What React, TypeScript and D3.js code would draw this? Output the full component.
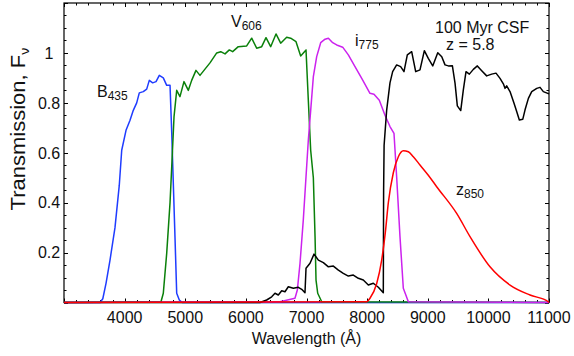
import React from "react";
import * as d3 from "d3";

// Filter transmission curves (wavelength in Å, throughput)
const bLambda = [3000, 3594, 3640, 3693, 3759, 3841, 3912, 3952, 4023, 4089, 4143, 4199, 4242, 4308, 4364, 4407, 4463, 4518, 4572, 4638, 4694, 4749, 4777, 4831, 4859, 4902, 4950, 11000];
const bTrans = [0, 0, 0.015, 0.077, 0.17, 0.3, 0.47, 0.61, 0.69, 0.73, 0.77, 0.8, 0.84, 0.845, 0.855, 0.89, 0.88, 0.885, 0.91, 0.9, 0.87, 0.87, 0.68, 0.26, 0.037, 0.01, 0, 0];

const vLambda = [3000, 4600, 4638, 4694, 4749, 4777, 4815, 4859, 4913, 4979, 5051, 5106, 5177, 5243, 5309, 5408, 5519, 5585, 5656, 5727, 5782, 5875, 6013, 6096, 6178, 6261, 6332, 6409, 6497, 6574, 6673, 6739, 6827, 6904, 6992, 7030, 7069, 7113, 7141, 7157, 7185, 7251, 11000];
const vTrans = [0, 0.003, 0.037, 0.197, 0.4, 0.544, 0.745, 0.85, 0.825, 0.885, 0.85, 0.89, 0.93, 0.91, 0.93, 0.96, 1.0, 1.005, 0.996, 1.012, 1.005, 1.025, 1.028, 1.059, 1.019, 1.025, 1.061, 1.025, 1.076, 1.039, 1.063, 1.059, 1.045, 0.988, 1.012, 0.81, 0.61, 0.5, 0.264, 0.09, 0.037, 0.003, 0];

const iLambda = [3000, 6563, 6810, 6849, 6893, 6947, 6992, 7030, 7069, 7113, 7168, 7234, 7306, 7361, 7432, 7498, 7597, 7690, 7800, 7911, 8047, 8113, 8201, 8295, 8377, 8443, 8460, 8487, 8542, 8597, 8680, 11000];
const iTrans = [0, 0.003, 0.017, 0.05, 0.157, 0.33, 0.504, 0.65, 0.77, 0.905, 0.985, 1.041, 1.055, 1.059, 1.041, 1.032, 1.023, 0.992, 0.945, 0.898, 0.838, 0.834, 0.81, 0.75, 0.705, 0.678, 0.611, 0.504, 0.264, 0.057, 0.003, 0];

const zLambda = [3000, 7993, 8047, 8157, 8240, 8300, 8350, 8432, 8515, 8597, 8680, 8762, 8872, 9009, 9147, 9477, 9697, 10027, 10357, 10687, 10989, 11000];
const zTrans = [0, 0.003, 0.017, 0.075, 0.17, 0.28, 0.4, 0.52, 0.584, 0.608, 0.604, 0.584, 0.551, 0.51, 0.464, 0.357, 0.264, 0.143, 0.07, 0.03, 0.003, 0];

// Model spectrum: 100 Myr constant star formation at z = 5.8
const sedLambda = [3000, 6233, 6343, 6426, 6480, 6535, 6591, 6645, 6700, 6783, 6865, 6921, 6975, 6992, 7058, 7124, 7196, 7278, 7361, 7443, 7526, 7607, 7690, 7772, 7855, 7937, 8020, 8102, 8185, 8267, 8272, 8280, 8322, 8377, 8421, 8487, 8553, 8608, 8663, 8735, 8801, 8872, 8944, 9009, 9082, 9165, 9231, 9285, 9340, 9406, 9450, 9488, 9544, 9587, 9631, 9686, 9752, 9818, 9890, 9972, 10055, 10126, 10192, 10247, 10274, 10302, 10357, 10423, 10467, 10511, 10567, 10605, 10660, 10715, 10798, 10852, 10907, 11000];
const sedFlux = [0, 0, 0.01, 0.023, 0.037, 0.03, 0.047, 0.043, 0.063, 0.057, 0.061, 0.053, 0.039, 0.137, 0.157, 0.194, 0.17, 0.16, 0.143, 0.146, 0.13, 0.117, 0.106, 0.11, 0.097, 0.09, 0.07, 0.077, 0.061, 0.039, 0.45, 0.63, 0.77, 0.88, 0.925, 0.952, 0.945, 0.925, 0.992, 1.005, 0.925, 0.932, 1.009, 0.978, 0.948, 1.001, 0.985, 0.952, 0.948, 0.949, 0.879, 0.788, 0.769, 0.852, 0.925, 0.915, 0.934, 0.948, 0.929, 0.908, 0.915, 0.919, 0.898, 0.876, 0.858, 0.868, 0.845, 0.798, 0.765, 0.731, 0.734, 0.772, 0.818, 0.845, 0.858, 0.862, 0.845, 0.836];

const xTickValues = [4000, 5000, 6000, 7000, 8000, 9000, 10000, 11000];
const yTickValues = [0.2, 0.4, 0.6, 0.8, 1.0];
const yTickLabels = ["0.2", "0.4", "0.6", "0.8", "1"];

const W = 574;
const H = 356;
const FONT = "'Liberation Sans', Arial, Helvetica, sans-serif";

const x = d3.scaleLinear().domain([3000, 11000]).range([64, 549]);
const y = d3.scaleLinear().domain([0, 1.2]).range([302.5, 3]);

const toPath = (xs: number[], ys: number[], curve: d3.CurveFactory = d3.curveLinear) =>
  d3
    .line<number>()
    .curve(curve)
    .x((_, i) => x(xs[i]))
    .y((_, i) => y(ys[i]))(xs) as string;

const curves = [
  { xs: bLambda, ys: bTrans, color: "#1f3cff", curve: d3.curveLinear },
  { xs: vLambda, ys: vTrans, color: "#0a800a", curve: d3.curveLinear },
  { xs: iLambda, ys: iTrans, color: "#cc22ee", curve: d3.curveLinear },
  { xs: sedLambda, ys: sedFlux, color: "#000000", curve: d3.curveLinear },
  { xs: zLambda, ys: zTrans, color: "#ff0000", curve: d3.curveMonotoneX },
];

export default function App() {
  const [x0, x1] = x.range();
  const [yb, yt] = y.range();
  const xMinor = d3.range(3000, 11001, 200);
  const yMinor = d3.range(0, 1.2001, 0.05);
  const isMajorX = (v: number) => v % 1000 === 0;
  const isMajorY = (v: number) => Math.abs(v / 0.2 - Math.round(v / 0.2)) < 1e-6;

  return (
    <svg
      width={W}
      height={H}
      style={{ position: "absolute", left: 0, top: 0, background: "#fff" }}
      fontFamily={FONT}
    >
      <rect x={0} y={0} width={W} height={H} fill="#fff" />

      {/* ticks on all four sides, pointing inward */}
      <g stroke="#000" strokeWidth={1}>
        {xMinor.map((v) => {
          const len = isMajorX(v) ? 4 : 2.5;
          const px = Math.round(x(v)) + 0.5;
          return (
            <g key={"xt" + v}>
              <line x1={px} x2={px} y1={yb} y2={yb - len} />
              <line x1={px} x2={px} y1={yt} y2={yt + len} />
            </g>
          );
        })}
        {yMinor.map((v) => {
          const len = isMajorY(v) ? 4 : 2.5;
          const py = Math.round(y(v)) + 0.5;
          return (
            <g key={"yt" + v.toFixed(2)}>
              <line x1={x0} x2={x0 + len} y1={py} y2={py} />
              <line x1={x1} x2={x1 - len} y1={py} y2={py} />
            </g>
          );
        })}
      </g>

      <rect x={x0} y={yt} width={x1 - x0} height={yb - yt} fill="none" stroke="#000" strokeWidth={1.2} />

      {curves.map((c, i) => (
        <path key={i} d={toPath(c.xs, c.ys, c.curve)} fill="none" stroke={c.color} strokeWidth={1.5} strokeLinejoin="round" />
      ))}

      {/* tick labels */}
      <g fontSize={16} fill="#111" textAnchor="middle">
        {xTickValues.map((v) => (
          <text key={"xl" + v} x={x(v)} y={323}>
            {v}
          </text>
        ))}
        {yTickValues.map((v, i) => (
          <text key={"yl" + v} x={49} y={y(v)} dy="0.36em">
            {yTickLabels[i]}
          </text>
        ))}
      </g>

      {/* axis titles */}
      <text x={(x0 + x1) / 2} y={344} fontSize={16} textAnchor="middle" fill="#111">
        Wavelength (Å)
      </text>
      <text
        transform="translate(25,129) rotate(-90) scale(1.1,1)"
        fontSize={20}
        textAnchor="middle"
        fill="#111"
      >
        Transmission, F<tspan fontSize={13} dy={4}>ν</tspan>
      </text>

      {/* curve labels */}
      <g fontSize={16} fill="#111">
        <text x={97} y={97}>
          B<tspan fontSize={12} dy={3}>435</tspan>
        </text>
        <text x={231} y={27}>
          V<tspan fontSize={12} dy={3}>606</tspan>
        </text>
        <text x={355} y={46}>
          i<tspan fontSize={12} dy={3}>775</tspan>
        </text>
        <text x={456} y={195}>
          z<tspan fontSize={12} dy={3}>850</tspan>
        </text>
        <text x={435} y={33}>100 Myr CSF</text>
        <text x={446} y={50}>z = 5.8</text>
      </g>
    </svg>
  );
}
